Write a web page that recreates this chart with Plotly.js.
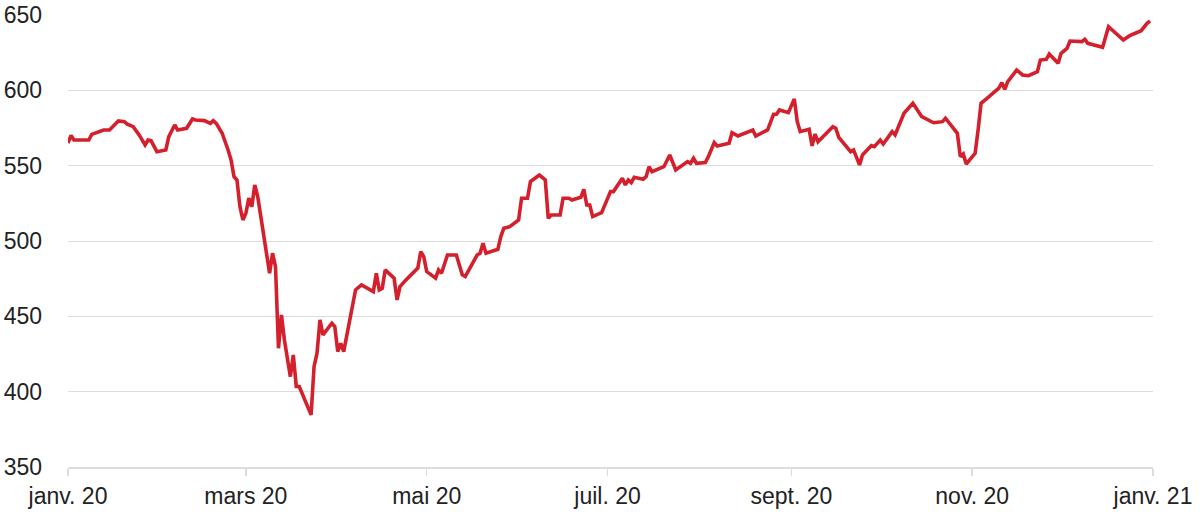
<!DOCTYPE html>
<html>
<head>
<meta charset="utf-8">
<script src="https://cdn.plot.ly/plotly-3.0.1.min.js"></script>
<style>html,body{margin:0;padding:0;background:#fff;}#chart{width:1200px;height:514px;}</style>
</head>
<body>
<div id="chart"></div>
<script>
const dates = [
"2020-01-01","2020-01-02","2020-01-03","2020-01-08","2020-01-09","2020-01-10","2020-01-13","2020-01-15","2020-01-17","2020-01-18",
"2020-01-20","2020-01-21","2020-01-23","2020-01-25","2020-01-27","2020-01-28","2020-01-29","2020-01-31","2020-02-03","2020-02-04",
"2020-02-06","2020-02-07","2020-02-10","2020-02-12","2020-02-13","2020-02-16","2020-02-18","2020-02-19","2020-02-20","2020-02-22",
"2020-02-24","2020-02-25","2020-02-26","2020-02-27","2020-02-28","2020-02-29","2020-03-01","2020-03-02","2020-03-03","2020-03-04",
"2020-03-05","2020-03-07","2020-03-09","2020-03-10","2020-03-11","2020-03-12","2020-03-13","2020-03-14","2020-03-16","2020-03-17",
"2020-03-18","2020-03-19","2020-03-23","2020-03-24","2020-03-25","2020-03-26","2020-03-27","2020-03-30","2020-03-31","2020-04-01",
"2020-04-02","2020-04-03","2020-04-07","2020-04-09","2020-04-13","2020-04-14","2020-04-15","2020-04-16","2020-04-17","2020-04-20",
"2020-04-21","2020-04-22","2020-04-24","2020-04-28","2020-04-29","2020-04-30","2020-05-01","2020-05-04","2020-05-05","2020-05-06",
"2020-05-08","2020-05-11","2020-05-13","2020-05-14","2020-05-18","2020-05-19","2020-05-20","2020-05-21","2020-05-25","2020-05-26",
"2020-05-27","2020-05-29","2020-06-01","2020-06-02","2020-06-04","2020-06-05","2020-06-08","2020-06-10","2020-06-11","2020-06-12",
"2020-06-15","2020-06-16","2020-06-18","2020-06-19","2020-06-22","2020-06-23","2020-06-24","2020-06-25","2020-06-26","2020-06-29",
"2020-06-30","2020-07-01","2020-07-02","2020-07-03","2020-07-06","2020-07-07","2020-07-08","2020-07-09","2020-07-10","2020-07-13",
"2020-07-14","2020-07-15","2020-07-16","2020-07-20","2020-07-22","2020-07-24","2020-07-27","2020-07-28","2020-07-29","2020-07-30",
"2020-07-31","2020-08-03","2020-08-04","2020-08-06","2020-08-07","2020-08-11","2020-08-12","2020-08-14","2020-08-19","2020-08-20",
"2020-08-24","2020-08-25","2020-08-26","2020-08-27","2020-08-28","2020-08-31","2020-09-02","2020-09-03","2020-09-04","2020-09-07",
"2020-09-08","2020-09-09","2020-09-10","2020-09-15","2020-09-16","2020-09-17","2020-09-21","2020-09-22","2020-09-24","2020-09-25",
"2020-09-28","2020-09-29","2020-10-01","2020-10-02","2020-10-05","2020-10-06","2020-10-09","2020-10-12","2020-10-14","2020-10-15",
"2020-10-19","2020-10-21","2020-10-22","2020-10-23","2020-10-27","2020-10-28","2020-10-29","2020-10-30","2020-11-02","2020-11-03",
"2020-11-04","2020-11-06","2020-11-09","2020-11-10","2020-11-11","2020-11-12","2020-11-13","2020-11-16","2020-11-18","2020-11-20",
"2020-11-23","2020-11-24","2020-11-26","2020-11-27","2020-11-30","2020-12-01","2020-12-03","2020-12-04","2020-12-08","2020-12-09",
"2020-12-10","2020-12-15","2020-12-17","2020-12-22","2020-12-24","2020-12-28","2020-12-30","2020-12-31"
];
const values = [
565,570,567,567,570.8,571.5,573.7,573.7,578.1,579.7,
579.2,577.5,575.9,570.4,563.7,567,566.6,559.3,560.4,569.3,
577,573.7,574.8,581,580.3,579.9,578.1,579.9,578.1,571.5,
560.4,553.8,542.7,540.5,522.8,514,518.4,528.4,522.8,537.2,
529.4,505,478.6,491.9,483,428.8,450.9,434.3,410,424.4,
403.4,403.4,384.6,416.6,425.5,447.6,437.7,445.4,443.2,426.6,
432.1,426.6,467.5,470.8,466.4,478.6,467.5,468.6,480.8,475.3,
460.9,469.7,474.2,482,493,489.6,479.7,475.3,480.8,478.6,
490.7,490.7,477.5,476.4,490.7,491.9,498.5,491.9,494.5,502.9,
508.4,509.5,514,528.4,528.4,539.4,543.8,540.5,515.1,517.3,
517.3,528.4,528.4,527.2,529,534.3,523.9,523.9,516.2,518.8,
523.9,528.4,532.8,532.8,541.6,537.2,540.5,538.7,542.3,541,
542.7,549.3,546,549.3,557.1,547.2,551.1,552.7,551.6,554.9,
551.6,552,556,565.3,563.1,564.9,571.9,569.7,573.7,569.7,
573.7,579.2,584.1,584.1,587,585.2,594.3,579.2,572.6,574.2,
563.1,571,565.9,575.9,574.8,568.8,559.3,560.4,550.5,557.1,
563.3,562.6,567,564.4,572.6,570.4,584.8,591.4,585.8,582.5,
578.5,579.2,579.2,581.5,571.5,556,557.8,551.1,558.2,573.7,
591.4,594.7,600.2,601.4,605.1,600.7,605.8,613.5,610.2,609.7,
612.4,620.1,620.6,624.1,617.9,624.6,627.9,632.7,632.3,633.9,
631.2,628.6,642.2,633.4,636.1,639.6,644.5,646
];
const xTickVals = ["2020-01-01","2020-03-01","2020-05-01","2020-07-01","2020-09-01","2020-11-01","2021-01-01"];
const xTickText = ["janv. 20","mars 20","mai 20","juil. 20","sept. 20","nov. 20","janv. 21"];
const yTickVals = [350,400,450,500,550,600,650];

const trace = {
  x: dates, y: values, type: "scatter", mode: "lines",
  line: {color: "#d4202c", width: 3.6, shape: "linear"},
  hoverinfo: "x+y"
};
const layout = {
  width: 1200, height: 514,
  margin: {l: 68, r: 47, t: 15, b: 47},
  paper_bgcolor: "#fff", plot_bgcolor: "#fff",
  showlegend: false,
  font: {family: "Liberation Sans, Arial, sans-serif", size: 23, color: "#222"},
  xaxis: {
    type: "date", range: ["2020-01-01", "2021-01-01"],
    tickmode: "array", tickvals: xTickVals, ticktext: xTickText,
    showgrid: false, zeroline: false,
    showline: true, linecolor: "#dcdcdc", linewidth: 1.5,
    ticks: "outside", ticklen: 7, tickcolor: "#dcdcdc", tickwidth: 1.5,
    ticklabelstandoff: 1,
    tickfont: {size: 23, color: "#222"}
  },
  yaxis: {
    range: [350, 650], tickmode: "array", tickvals: yTickVals,
    showgrid: true, gridcolor: "#dcdcdc", gridwidth: 1,
    zeroline: false, showline: false, ticks: "",
    ticklabelstandoff: 25,
    tickfont: {size: 23, color: "#222"}
  }
};
Plotly.newPlot("chart", [trace], layout, {displayModeBar: false, staticPlot: true});
</script>
</body>
</html>
